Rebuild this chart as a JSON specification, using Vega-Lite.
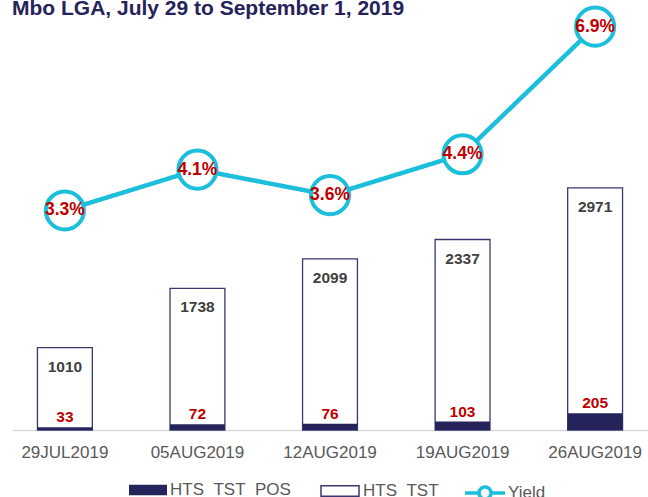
{
  "$schema": "https://vega.github.io/schema/vega-lite/v6.json",
  "width": 636,
  "height": 410,
  "autosize": "none",
  "padding": {"left": 12, "top": 20, "right": 0, "bottom": 67},
  "title": {
    "text": "Mbo LGA, July 29 to September 1, 2019",
    "anchor": "start",
    "frame": "group",
    "font": "Liberation Sans",
    "fontSize": 21,
    "fontWeight": "bold",
    "color": "#25235A",
    "offset": -19
  },
  "config": {
    "view": {"stroke": null},
    "font": "Liberation Sans"
  },
  "data": {
    "values": [
      {"week": "29JUL2019", "tst": 1010, "pos": 33, "yield": 0.033},
      {"week": "05AUG2019", "tst": 1738, "pos": 72, "yield": 0.041},
      {"week": "12AUG2019", "tst": 2099, "pos": 76, "yield": 0.036},
      {"week": "19AUG2019", "tst": 2337, "pos": 103, "yield": 0.044},
      {"week": "26AUG2019", "tst": 2971, "pos": 205, "yield": 0.069}
    ]
  },
  "encoding": {
    "x": {
      "field": "week",
      "type": "nominal",
      "sort": null,
      "scale": {"paddingInner": 0.586, "paddingOuter": 0.192},
      "axis": {
        "title": null,
        "labelAngle": 0,
        "ticks": false,
        "domainColor": "#D9D9D9",
        "domainWidth": 1.5,
        "labelFont": "Liberation Sans",
        "labelFontSize": 17,
        "labelColor": "#595959",
        "labelPadding": 14
      }
    }
  },
  "layer": [
    {
      "layer": [
        {
          "mark": {"type": "bar", "fill": "white", "strokeWidth": 1.3},
          "encoding": {
            "y": {"field": "tst", "type": "quantitative", "scale": {"domain": [0, 5030], "nice": false}, "axis": null},
            "stroke": {
              "datum": "HTS_TST",
              "scale": {"domain": ["HTS_TST"], "range": ["#3B3870"]},
              "legend": {
                "orient": "none", "legendX": 308, "legendY": 451, "title": null,
                "symbolType": "M-1,-0.27H1V0.27H-1Z", "symbolSize": 1444,
                "symbolFillColor": "white", "symbolStrokeWidth": 1.5,
                "labelFont": "Liberation Sans", "labelFontSize": 17, "labelColor": "#595959", "labelOffset": 3
              }
            }
          }
        },
        {
          "mark": {"type": "bar"},
          "encoding": {
            "y": {"field": "pos", "type": "quantitative"},
            "fill": {
              "datum": "HTS_TST_POS",
              "scale": {"domain": ["HTS_TST_POS"], "range": ["#24245A"]},
              "legend": {
                "orient": "none", "legendX": 117, "legendY": 451, "title": null,
                "symbolType": "M-1,-0.27H1V0.27H-1Z", "symbolSize": 1444,
                "symbolStrokeWidth": 0,
                "labelFont": "Liberation Sans", "labelFontSize": 17, "labelColor": "#595959", "labelOffset": 3
              }
            }
          }
        },
        {
          "mark": {"type": "text", "dy": 19, "baseline": "middle", "font": "Liberation Sans", "fontWeight": "bold", "fontSize": 15.5, "color": "#404040"},
          "encoding": {
            "y": {"field": "tst", "type": "quantitative"},
            "text": {"field": "tst", "type": "quantitative", "format": "d"}
          }
        },
        {
          "mark": {"type": "text", "dy": -10, "baseline": "middle", "font": "Liberation Sans", "fontWeight": "bold", "fontSize": 15.5, "color": "#C00000"},
          "encoding": {
            "y": {"field": "pos", "type": "quantitative"},
            "text": {"field": "pos", "type": "quantitative", "format": "d"}
          }
        }
      ]
    },
    {
      "layer": [
        {
          "mark": {"type": "line", "color": "#1CBFDB", "strokeWidth": 4.5},
          "encoding": {
            "y": {"field": "yield", "type": "quantitative", "scale": {"domain": [-0.01, 0.0703], "nice": false, "zero": false}, "axis": null},
            "strokeDash": {
              "datum": "Yield",
              "scale": {"domain": ["Yield"], "range": [[1, 0]]},
              "legend": {
                "orient": "none", "legendX": 451, "legendY": 451, "title": null,
                "symbolType": "M-1,0H-0.3M0.3,0H1M0.3,0A0.3,0.3 0 1,1 -0.3,0A0.3,0.3 0 1,1 0.3,0",
                "symbolSize": 1600, "symbolStrokeColor": "#1CBFDB", "symbolFillColor": "white", "symbolStrokeWidth": 3.5,
                "labelFont": "Liberation Sans", "labelFontSize": 17, "labelColor": "#595959", "labelOffset": 1
              }
            }
          }
        },
        {
          "mark": {"type": "point", "shape": "circle", "filled": true, "fill": "white", "stroke": "#1CBFDB", "strokeWidth": 4, "size": 1452, "opacity": 1},
          "encoding": {
            "y": {"field": "yield", "type": "quantitative"}
          }
        },
        {
          "mark": {"type": "text", "baseline": "middle", "font": "Liberation Sans", "fontWeight": "bold", "fontSize": 17.5, "color": "#C00000"},
          "encoding": {
            "y": {"field": "yield", "type": "quantitative"},
            "text": {"field": "yield", "type": "quantitative", "format": ".1%"}
          }
        }
      ]
    }
  ],
  "resolve": {"scale": {"y": "independent"}}
}
